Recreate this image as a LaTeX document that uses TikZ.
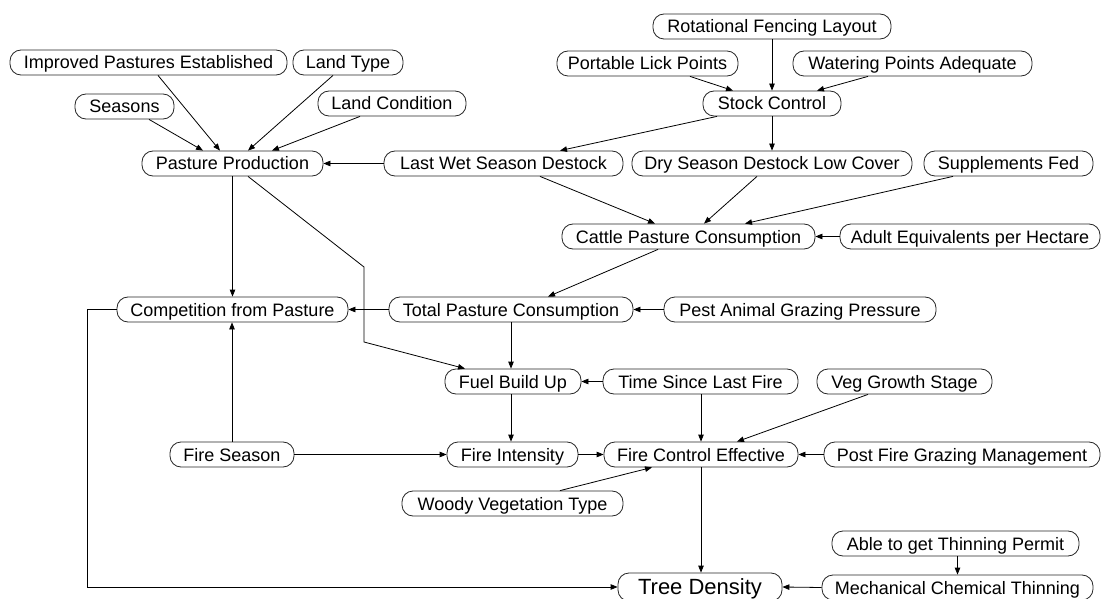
\documentclass[tikz,border=0pt]{standalone}
\usepackage{fontspec}
\setmainfont{Liberation Sans}
\usetikzlibrary{arrows.meta,calc}
\begin{document}
\begin{tikzpicture}[x=1pt,y=-1pt,
  var/.style={draw=black!85, line width=0.8pt, rounded corners=11pt,
    minimum height=25pt, minimum width=#1, inner sep=0pt,
    text height=13pt, text depth=0pt, font=\fontsize{18}{20}\selectfont},
  link/.style={draw=black, line width=0.8pt, -{Triangle[length=7pt,width=5.5pt]}}]
\useasboundingbox (0,0) rectangle (1101,599);
\fill[white] (0,0) rectangle (1101,599);

% variables
\node[var=238pt] (rot)       at (772,26.5)    {Rotational Fencing Layout};
\node[var=181pt] (lick)      at (647.5,63.5)  {Portable Lick Points};
\node[var=239pt] (water)     at (912.5,63.5)  {Watering Points Adequate};
\node[var=138pt] (stock)     at (772,103.5)   {Stock Control};
\node[var=277pt] (imp)       at (148.5,62.5)  {Improved Pastures Established};
\node[var=110pt] (landtype)  at (348,62.5)    {Land Type};
\node[var=99pt]  (seasons)   at (124.5,106.5) {Seasons};
\node[var=148pt] (landcond)  at (392,103.5)   {Land Condition};
\node[var=181pt] (pasture)   at (232.5,163.5) {Pasture Production};
\node[var=239pt] (lastwet)   at (503.5,163.5) {Last Wet Season Destock};
\node[var=280pt] (dry)       at (772,163.5)   {Dry Season Destock Low Cover};
\node[var=169pt] (supp)      at (1008.5,163.5){Supplements Fed};
\node[var=253pt] (cattle)    at (688.5,236.5) {Cattle Pasture Consumption};
\node[var=260pt] (adult)     at (970,236.5)   {Adult Equivalents per Hectare};
\node[var=231pt] (comp)      at (232.5,309.5) {Competition from Pasture};
\node[var=244pt] (total)     at (511,309.5)   {Total Pasture Consumption};
\node[var=272pt] (pest)      at (800,309.5)   {Pest Animal Grazing Pressure};
\node[var=136pt] (fuel)      at (513,381.5)   {Fuel Build Up};
\node[var=195pt] (time)      at (700.5,381.5) {Time Since Last Fire};
\node[var=175pt] (veg)       at (904.5,381.5) {Veg Growth Stage};
\node[var=124pt] (fireseason) at (232,454.5)  {Fire Season};
\node[var=131pt] (intensity) at (512.5,454.5) {Fire Intensity};
\node[var=194pt] (control)   at (701,454.5)   {Fire Control Effective};
\node[var=276pt] (post)      at (962,454.5)   {Post Fire Grazing Management};
\node[var=221pt] (woody)     at (512.5,503.5) {Woody Vegetation Type};
\node[var=247pt] (permit)    at (955.5,543.5) {Able to get Thinning Permit};
\node[var=164pt, minimum height=28pt, text height=14pt,
      font=\fontsize{22}{24}\selectfont] (tree) at (700,587) {Tree Density};
\node[var=271pt] (mech)      at (957.5,587.5) {Mechanical Chemical Thinning};

% bend points of the pasture to fuel connector
\coordinate (bendA) at (364,267);
\coordinate (bendB) at (364,342);

% influences
\draw[link] ([xshift=24.5pt]seasons.south) -- ([xshift=-29.5pt]pasture.north);
\draw[link] ([xshift=9.5pt]imp.south) -- ([xshift=-12.5pt]pasture.north);
\draw[link] ([xshift=-15pt]landtype.south) -- ([xshift=15.5pt]pasture.north);
\draw[link] ([xshift=-32pt]landcond.south) -- ([xshift=39.5pt]pasture.north);
\draw[link] (lastwet.west) -- (pasture.east);

\draw[link] (rot.south) -- (stock.north);
\draw[link] ([xshift=42.5pt]lick.south) -- ([xshift=-39pt]stock.north);
\draw[link] ([xshift=-44.5pt]water.south) -- ([xshift=45pt]stock.north);
\draw[link] ([xshift=-55pt]stock.south) -- ([xshift=56.5pt]lastwet.north);
\draw[link] (stock.south) -- (dry.north);

\draw[link] ([xshift=36.5pt]lastwet.south) -- ([xshift=-33.5pt]cattle.north);
\draw[link] ([xshift=-15pt]dry.south) -- ([xshift=15.5pt]cattle.north);
\draw[link] ([xshift=-55.5pt]supp.south) -- ([xshift=56.5pt]cattle.north);
\draw[link] (adult.west) -- (cattle.east);

\draw[link] ([xshift=-30.5pt]cattle.south) -- ([xshift=37pt]total.north);
\draw[link] (pest.west) -- (total.east);
\draw[link] (total.west) -- (comp.west -| comp.east);
\draw[link] (pasture.south) -- (comp.north);
\draw[link] ([xshift=15.5pt]pasture.south) -- (bendA) -- (bendB) -- ([xshift=-48pt]fuel.north);
\draw[link] (total.south) -- (total.south |- fuel.north);
\draw[link] (time.west) -- (fuel.east);
\draw[link] (fuel.south -| total.south) -- (intensity.north -| total.south);

\draw[link] (fireseason.north) -- (comp.south -| fireseason.north);
\draw[link] (fireseason.east) -- (intensity.west);
\draw[link] (intensity.east) -- (control.west);
\draw[link] (time.south -| control.north) -- (control.north);
\draw[link] ([xshift=-36.5pt]veg.south) -- ([xshift=36pt]control.north);
\draw[link] (post.west) -- (control.east);
\draw[link] ([xshift=47.5pt]woody.north) -- ([xshift=-49pt]control.south);

\draw[link] (control.south) -- (tree.north -| control.south);
\draw[link] (comp.west) -- ++(-29,0) |- (tree.west);
\draw[link] (mech.west) -- (tree.east);
\draw[link] (permit.south -| mech.north) -- (mech.north);
\end{tikzpicture}
\end{document}
